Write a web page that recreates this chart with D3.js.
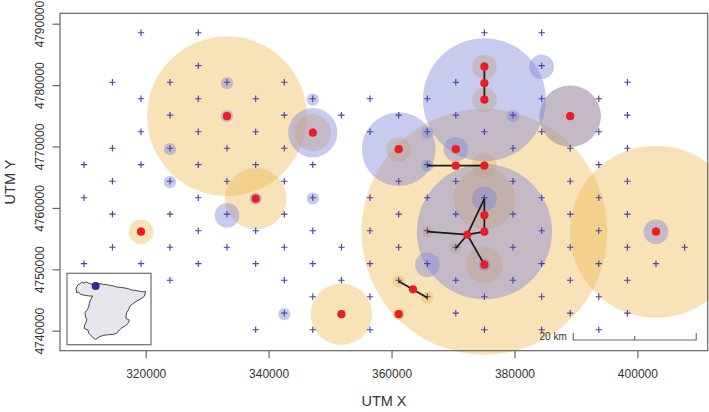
<!DOCTYPE html>
<html><head><meta charset="utf-8">
<script src="https://cdn.jsdelivr.net/npm/d3@7"></script>
<style>html,body{margin:0;padding:0;background:#fff}svg{display:block}text{font-family:"Liberation Sans",Arial,sans-serif}</style>
</head><body><div id="c"></div>
<script>
const xTicks=[320000,340000,360000,380000,400000];
const yTicks=[4740000,4750000,4760000,4770000,4780000,4790000];
const trapRowY=[4788371,4782997,4780309,4777622,4774935,4772247,4769560,4766873,4764185,4761498,4758811,4756123,4753436,4750749,4748061,4745374,4742687,4739999];
const trapColX=[309961,314582,319235,323954,328558,333228,337898,342551,347188,351842,356495,361165,365819,370456,375109,379762,384432,389069,393723,398376,403030,407683];
const trapRowsByCol=[[7,9,13],[2,6,8,10,12],[0,3,5,7,11,13],[2,4,6,8,10,12,14],[0,1,3,5,7,9,11,13],[2,4,6,8,10,12],[3,5,7,9,11,13,17],[2,4,6,8,10,12,14,16],[3,5,7,9,11,13,15,17],[4,12,14,16],[3,5,9,11,13,15,17],[4,6,8,10,12,14,16],[3,5,7,9,11,13,15],[2,4,6,8,10,12,14,16],[0,1,3,5,7,9,11,13,15,17],[4,6,8,10,12,14],[0,1,3,5,9,11,13,15,17],[4,6,8,10,12,14,16],[3,5,7,9,11,13,15,17],[2,4,6,8,10,12,14,16],[11,13],[12]];
// [UTM x, UTM y, radius in km]
const yellowCircles=[[333228,4774935,13],[337898,4761498,5],[319235,4756123,2],[351842,4742687,5],[375109,4756123,20],[403030,4756123,14],[361165,4748061,1],[365819,4745374,1],[361165,4742687,1],[375109,4782997,2],[375109,4777622,2],[361165,4769560,2],[347188,4772247,3],[375109,4766873,2],[375109,4761498,5],[375109,4750749,3],[365819,4756123,1],[370456,4753436,1],[389069,4774935,5]];
const blueCircles=[[375109,4756123,11],[375109,4777622,10],[361165,4769560,6],[389069,4774935,5],[347188,4772247,4],[384432,4782997,2],[370456,4769560,2],[375109,4761498,2],[365819,4750749,2],[333228,4758811,2],[403030,4756123,2],[365819,4772247,1],[379762,4774935,1],[365819,4766873,1],[375109,4750749,1],[333228,4780309,1],[333228,4774935,1],[323954,4769560,1],[323954,4764185,1],[337898,4761498,1],[347188,4777622,1],[347188,4761498,1],[342551,4742687,1]];
const redX=[319235,333228,337898,347188,351842,361165,361165,363492,370456,370456,375109,375109,375109,375109,375109,375109,375109,372327,389069,403030];
const redY=[4756123,4774935,4761498,4772247,4742687,4769560,4742687,4746742,4769560,4766873,4766873,4782997,4780309,4777622,4758811,4756123,4750749,4755634,4774935,4756123];
const links=[[375109,4782997,375109,4777622],[365819,4766873,375109,4766873],[375109,4761498,375109,4756123],[375109,4761498,372327,4755634],[365819,4756123,372327,4755634],[372327,4755634,375109,4756123],[372327,4755634,370456,4753436],[372327,4755634,375109,4750749],[361165,4748061,365819,4745374]];
const scaleBarX=[389575,399575,409575];
const spainLon=[-9.30,-9.12,-8.94,-8.58,-8.28,-7.85,-7.37,-6.89,-6.47,-5.75,-4.96,-4.36,-3.64,-3.16,-2.43,-1.95,-1.23,-0.44,0.16,0.76,1.36,1.97,2.57,3.29,3.17,3.11,2.27,1.54,1.06,0.46,0.22,-0.14,-0.26,-0.26,0.34,0.10,-0.38,-0.99,-1.47,-1.95,-2.67,-3.46,-4.36,-5.08,-5.75,-6.29,-6.65,-7.01,-7.13,-7.85,-7.73,-7.49,-7.37,-7.61,-7.67,-7.25,-7.01,-6.89,-6.65,-6.29,-6.89,-7.67,-8.46,-8.82,-9.18];
const spainLat=[42.90,43.17,43.39,43.53,43.71,43.62,43.75,43.57,43.48,43.48,43.53,43.44,43.39,43.30,43.21,43.08,43.03,42.94,42.85,42.67,42.63,42.54,42.45,42.45,42.13,41.86,41.41,41.13,40.86,40.50,40.05,39.60,39.15,38.83,38.61,38.15,37.84,37.57,37.25,36.80,36.66,36.62,36.53,36.35,35.99,36.26,36.57,36.80,37.25,37.48,37.93,38.29,38.70,39.15,39.69,39.96,40.41,40.86,41.41,41.86,41.86,41.95,42.08,42.40,42.31];
const studyArea=[-5.75,43.21];

const W=709,H=412;
const svg=d3.select('#c').append('svg').attr('width',W).attr('height',H);
const box={l:60,t:13.3,r:707.7,b:350.7};
const x=d3.scaleLinear().domain([306056,411442]).range([box.l,box.r]);
const y=d3.scaleLinear().domain([4736742,4791694]).range([box.b,box.t]);
const rad=km=>x(km*1000)-x(0);
const textCol='#333', axisCol='#666';

const circ=(data,fill,op)=>svg.append('g').selectAll('circle').data(data).join('circle')
  .attr('cx',d=>x(d[0])).attr('cy',d=>y(d[1])).attr('r',d=>rad(d[2])).attr('fill',fill).attr('fill-opacity',op);
circ(yellowCircles,'#eeb64d',0.40);
circ(blueCircles,'#7d84d7',0.42);

const crosses=trapColX.flatMap((cx,i)=>trapRowsByCol[i].map(r=>[cx,trapRowY[r]]));
const cg=svg.append('g').attr('stroke','#4a44a4').attr('stroke-width',1.15);
cg.selectAll('path').data(crosses).join('path')
  .attr('d',d=>{const px=x(d[0]),py=y(d[1])-1;return `M${px-3.2},${py}H${px+3.2}M${px},${py-3.2}V${py+3.2}`;});

svg.append('g').selectAll('line').data(links).join('line')
  .attr('x1',d=>x(d[0])).attr('y1',d=>y(d[1])).attr('x2',d=>x(d[2])).attr('y2',d=>y(d[3]))
  .attr('stroke','#1a1a1a').attr('stroke-width',1.7);

svg.append('g').selectAll('circle').data(redX).join('circle')
  .attr('cx',d=>x(d)).attr('cy',(d,i)=>y(redY[i])).attr('r',4.1).attr('fill','#ec1c24');

// frame
svg.append('rect').attr('x',box.l).attr('y',box.t).attr('width',box.r-box.l).attr('height',box.b-box.t)
  .attr('fill','none').attr('stroke',axisCol).attr('stroke-width',1.2);

// axes
const gx=svg.append('g').attr('transform',`translate(0,${box.b})`)
  .call(d3.axisBottom(x).tickValues(xTicks).tickFormat(d3.format('d')).tickSize(7.5).tickPadding(11));
const gy=svg.append('g').attr('transform',`translate(${box.l},0)`)
  .call(d3.axisLeft(y).tickValues(yTicks).tickFormat(d3.format('d')).tickSize(7.5).tickPadding(9));
[gx,gy].forEach(g=>{g.select('.domain').remove();
  g.selectAll('.tick line').attr('stroke',axisCol).attr('stroke-width',1.2);
  g.selectAll('.tick text').attr('fill',textCol).style('font-size','12px').style('font-family','"Liberation Sans",Arial,sans-serif');});
gy.selectAll('.tick text').attr('text-anchor','middle').attr('dy',0).attr('x',0).attr('y',0)
  .attr('transform','translate(-16.5,0) rotate(-90)');

svg.append('text').attr('x',384).attr('y',406).attr('text-anchor','middle').attr('fill',textCol).style('font-size','14.5px').text('UTM X');
svg.append('text').attr('transform','translate(15,182) rotate(-90)').attr('text-anchor','middle').attr('fill',textCol).style('font-size','14.5px').text('UTM Y');

// scale bar
const sbY=340;
svg.append('path').attr('fill','none').attr('stroke',axisCol).attr('stroke-width',1.1)
  .attr('d',`M${x(scaleBarX[0])},${sbY-7}V${sbY}H${x(scaleBarX[2])}V${sbY-7}M${x(scaleBarX[1])},${sbY}V${sbY-4}`);
svg.append('text').attr('x',x(scaleBarX[0])-6.5).attr('y',340).attr('text-anchor','end').attr('fill',textCol).style('font-size','10px').text('20 km');

// inset
svg.append('rect').attr('x',67).attr('y',273.3).attr('width',84).attr('height',71.4).attr('fill','#fff').attr('stroke','#777').attr('stroke-width',1.3);
const lonS=d3.scaleLinear().domain([-9.3,3.3]).range([76,145.7]);
const latS=d3.scaleLinear().domain([36,43.8]).range([339.3,281.7]);
const outline=d3.line().x(d=>lonS(d)).y((d,i)=>latS(spainLat[i])).curve(d3.curveLinearClosed);
svg.append('path').attr('d',outline(spainLon)).attr('fill','#e6e7ec').attr('stroke','#333').attr('stroke-width',0.9);
svg.append('circle').attr('cx',lonS(studyArea[0])).attr('cy',latS(studyArea[1])).attr('r',4).attr('fill','#2e2a8f');
</script></body></html>
